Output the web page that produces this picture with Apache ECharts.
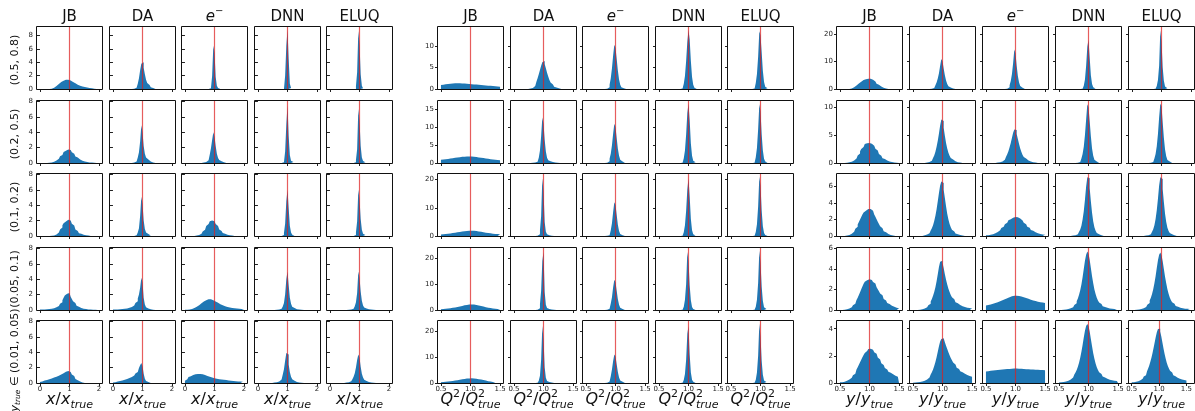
<!DOCTYPE html>
<html><head><meta charset="utf-8">
<script src="https://cdn.jsdelivr.net/npm/echarts@6/dist/echarts.min.js"></script>
<style>html,body{margin:0;padding:0;background:#fff}#c{width:1195px;height:411px}</style>
</head><body><div id="c"></div>
<script>
// ---------------- DATA (density per bin) ----------------
// x / x_true : 50 bins of width 0.04 on [0, 2]
const X_JB = [
 [0,0,0,0,0, 0,0,0,0,.05,.1,.2,.3,.45,.6,.75,.9,1.05,1.15,1.25,1.32,1.38,1.4,1.4,1.35,1.28,1.18,1.05,.95,.85,.75,.65,.57,.5,.44,.38,.33,.29,.25,.22,.19,.16,.13,.1,.08,.05,.03,.02],
 [0,0,0,0,0, 0,0,.03,.05,.08,.12,.17,.24,.32,.42,.55,.7,.88,1.05,1.25,1.42,1.58,1.7,1.75,1.75,1.68,1.55,1.38,1.2,1.02,.85,.7,.56,.45,.36,.29,.23,.19,.15,.12,.1,.08,.06,.05,.04,.03,.02,.01],
 [0,0,0,0,0, 0,0,0,0,.03,.05,.08,.13,.2,.3,.45,.62,.85,1.1,1.38,1.65,1.88,2.02,2.1,2.1,2.02,1.85,1.6,1.35,1.1,.85,.65,.5,.37,.28,.21,.16,.12,.09,.07,.05,.04,.03,.02],
 [.05,.06,.07,.08,.09,.1,.11,.13,.15,.17,.2,.24,.29,.35,.43,.53,.66,.82,1.02,1.28,1.58,1.88,2.12,2.25,2.2,2.0,1.72,1.42,1.14,.9,.7,.54,.42,.33,.26,.21,.17,.14,.12,.1,.08,.07,.06,.05,.04,.03,.02,.02,.01,.01],
 [.12,.2,.26,.31,.36,.4,.45,.5,.55,.6,.65,.7,.76,.82,.88,.95,1.02,1.1,1.18,1.27,1.36,1.45,1.52,1.55,1.52,1.42,1.28,1.1,.9,.7,.52,.37,.26,.18,.12,.08,.05,.03,.02]
];
const X_DA = [
 [0,0,0,0,0, 0,0,0,0,0, 0,0,0,0,0, 0,0,.05,.1,.2,.4,.8,1.6,2.8,3.8,4.0,3.2,2.2,1.4,.9,.6,.4,.25,.15,.1,.05],
 [0,0,0,0,0, 0,0,0,0,0, 0,0,0,0,0, 0,.05,.08,.12,.2,.35,.7,1.4,2.8,4.9,4.0,2.2,1.2,.7,.45,.3,.2,.13,.08,.05,.03],
 [0,0,0,0,0, 0,0,0,0,0, 0,0,0,0,0, 0,0,0,.05,.1,.2,.45,1.0,2.6,5.1,4.2,2.0,.9,.45,.25,.15,.08,.05],
 [.05,.06,.07,.08,.09,.1,.11,.12,.14,.16,.18,.21,.24,.28,.33,.4,.48,.58,.72,.9,1.15,1.5,2.0,2.9,4.2,3.6,1.6,.7,.35,.2,.13,.09,.06,.04,.03,.02],
 [.05,.1,.14,.18,.22,.26,.3,.34,.38,.42,.47,.52,.58,.64,.71,.79,.88,.98,1.1,1.24,1.42,1.65,1.95,2.3,2.6,2.2,1.2,.55,.25,.12,.06,.03]
];
const X_EL = [
 [0,0,0,0,0, 0,0,0,0,0, 0,0,0,0,0, 0,0,0,0,0, 0,.1,.4,2.0,6.5,5.5,1.8,.5,.15,.05],
 [0,0,0,0,0, 0,0,0,0,0, 0,0,0,0,0, .05,.08,.12,.2,.35,.6,1.1,1.9,3.0,4.0,3.4,2.2,1.2,.65,.38,.22,.14,.09,.05,.03],
 [0,0,0,0,0, 0,0,0,.03,.05,.08,.13,.2,.3,.43,.6,.8,1.05,1.3,1.55,1.75,1.9,2.0,2.0,1.92,1.75,1.55,1.3,1.05,.85,.66,.5,.38,.29,.22,.17,.13,.1,.08,.06,.04,.03,.02],
 [.02,.03,.05,.07,.1,.14,.19,.25,.33,.42,.52,.63,.75,.87,.98,1.09,1.19,1.28,1.35,1.39,1.4,1.38,1.34,1.28,1.2,1.11,1.02,.93,.84,.76,.68,.61,.55,.49,.44,.4,.36,.33,.3,.27,.25,.23,.21,.19,.17,.15,.13,.12,.1,.08],
 [.3,.5,.65,.78,.88,.96,1.03,1.08,1.12,1.15,1.17,1.18,1.17,1.15,1.12,1.08,1.03,.98,.92,.86,.8,.75,.7,.66,.62,.59,.56,.53,.5,.48,.46,.44,.42,.4,.38,.36,.34,.32,.3,.28,.26,.25,.23,.22,.2,.19,.18,.17,.16,.15]
];
const X_DNN = [
 [0,0,0,0,0, 0,0,0,0,0, 0,0,0,0,0, 0,0,0,0,0, 0,0,.3,2.0,6.5,8.9,4.5,.8,.15],
 [0,0,0,0,0, 0,0,0,0,0, 0,0,0,0,0, 0,0,0,0,0, .05,.1,.35,1.5,5.0,7.5,3.5,1.0,.3,.12,.05],
 [0,0,0,0,0, 0,0,0,0,0, 0,0,0,0,0, 0,0,0,0,0, .05,.12,.4,1.6,4.5,6.0,3.6,1.3,.45,.15,.06],
 [0,0,0,0,0, 0,0,0,0,0, 0,0,0,0,.03,.04,.05,.07,.1,.15,.25,.45,.9,2.0,4.0,5.0,3.2,1.6,.8,.42,.25,.16,.11,.08,.06,.05,.04,.03,.02],
 [0,0,0,0,0, 0,0,0,0,0, 0,0,.03,.05,.07,.1,.14,.2,.3,.45,.7,1.1,1.8,2.9,3.9,3.7,2.4,1.4,.8,.48,.3,.2,.14,.1,.07,.05,.04,.03,.02]
];
const X_ELUQ = [
 [0,0,0,0,0, 0,0,0,0,0, 0,0,0,0,0, 0,0,0,0,0, 0,0,.4,2.5,8.7,6.8,2.2,.5,.1],
 [0,0,0,0,0, 0,0,0,0,0, 0,0,0,0,0, 0,0,0,0,0, 0,.1,.4,1.8,7.0,5.5,2.2,.7,.25,.1,.04],
 [0,0,0,0,0, 0,0,0,0,0, 0,0,0,0,0, 0,0,0,0,0, .05,.12,.45,1.9,6.0,4.8,2.2,.8,.3,.12,.05],
 [0,0,0,0,0, 0,0,0,0,0, 0,0,0,0,.03,.04,.05,.07,.1,.15,.26,.5,1.0,2.2,5.0,4.2,2.4,1.2,.6,.33,.2,.13,.09,.07,.05,.04,.03,.02,.02],
 [0,0,0,0,0, 0,0,0,0,0, 0,0,.03,.05,.07,.1,.15,.22,.33,.5,.8,1.25,2.0,3.0,3.7,3.3,2.1,1.2,.7,.42,.27,.18,.12,.09,.07,.05,.04,.03,.02]
];
// Q^2 / Q^2_true : 50 bins of width 0.02 on [0.5, 1.5]
const Q_JB = [
 [.95,1.0,1.05,1.1,1.13,1.17,1.2,1.23,1.26,1.28,1.3,1.32,1.33,1.34,1.34,1.33,1.32,1.3,1.28,1.26,1.24,1.22,1.2,1.18,1.15,1.12,1.1,1.07,1.05,1.02,1.0,.98,.95,.93,.9,.88,.85,.83,.8,.78,.75,.73,.7,.68,.66,.64,.62,.6,.58,.55],
 [.9,.95,1.0,1.05,1.1,1.15,1.2,1.25,1.3,1.35,1.4,1.45,1.5,1.55,1.6,1.64,1.68,1.72,1.75,1.78,1.8,1.82,1.83,1.83,1.82,1.8,1.77,1.74,1.7,1.66,1.62,1.57,1.52,1.47,1.42,1.37,1.32,1.27,1.22,1.17,1.12,1.08,1.04,1.0,.96,.92,.88,.85,.82,.78],
 [.55,.6,.65,.7,.75,.8,.86,.92,.98,1.04,1.1,1.17,1.24,1.31,1.38,1.45,1.52,1.58,1.64,1.7,1.75,1.8,1.84,1.87,1.88,1.87,1.85,1.82,1.78,1.73,1.67,1.61,1.54,1.47,1.4,1.33,1.26,1.19,1.12,1.06,1.0,.94,.89,.84,.79,.75,.71,.67,.63,.6],
 [.3,.35,.4,.45,.5,.56,.62,.69,.76,.84,.92,1.01,1.1,1.2,1.3,1.4,1.5,1.6,1.7,1.8,1.9,1.98,2.06,2.12,2.16,2.17,2.15,2.1,2.03,1.95,1.86,1.76,1.65,1.54,1.43,1.32,1.21,1.1,1.0,.9,.81,.73,.66,.59,.53,.48,.43,.39,.35,.32],
 [.3,.35,.4,.45,.5,.55,.6,.66,.72,.79,.86,.94,1.02,1.1,1.18,1.26,1.34,1.42,1.5,1.57,1.63,1.69,1.74,1.78,1.8,1.8,1.78,1.74,1.69,1.63,1.56,1.48,1.4,1.31,1.22,1.12,1.02,.92,.82,.72,.63,.54,.46,.38,.31,.25,.1]
];
const Q_DA = [
 [0,0,0,0,0, 0,0,0,0,0, 0,0,.05,.1,.15,.25,.4,.7,1.1,1.7,2.5,3.4,4.4,5.4,6.2,6.5,5.8,4.8,3.8,2.9,2.1,1.5,1.05,.75,.5,.35,.25,.17,.12,.08,.05],
 [0,0,0,0,0, 0,0,0,0,0, 0,0,0,0,0, .05,.08,.12,.2,.35,.7,1.5,3.5,7.5,12.8,11.0,6.5,3.2,1.5,.8,.5,.35,.25,.18,.13,.1,.07,.05,.04,.03],
 [0,0,0,0,0, 0,0,0,0,0, 0,0,0,0,0, 0,0,0,.05,.1,.2,.6,2.0,7.0,20.5,16.0,5.0,1.5,.6,.3,.2,.12,.08,.05],
 [0,0,0,0,0, 0,0,0,0,0, 0,0,0,0,0, 0,0,0,.05,.1,.25,.7,2.2,7.5,19.0,22.5,7.0,2.0,.8,.4,.25,.18,.12,.08,.06,.04],
 [0,0,0,0,0, 0,0,0,0,0, 0,0,0,0,0, 0,0,0,0,.1,.3,.9,2.8,9.0,22.0,17.0,6.0,2.0,.8,.4,.25,.15,.1,.06]
];
const Q_EL = [
 [0,0,0,0,0, 0,0,0,0,0, 0,0,0,0,0, 0,0,.05,.15,.4,1.0,2.5,4.8,7.8,10.3,9.5,7.0,4.3,2.2,1.0,.4,.15,.08,.05],
 [0,0,0,0,0, 0,0,0,0,0, 0,0,0,0,0, 0,.05,.1,.2,.5,1.2,2.6,5.0,8.2,11.0,10.0,7.0,4.0,2.0,.9,.4,.2,.1,.05],
 [0,0,0,0,0, 0,0,0,0,0, 0,0,0,0,0, 0,0,.05,.12,.3,.8,2.0,4.5,8.5,12.0,11.0,7.5,4.0,1.8,.7,.3,.12,.05],
 [0,0,0,0,0, 0,0,0,0,0, 0,0,0,0,0, 0,.05,.1,.22,.5,1.1,2.5,5.0,8.8,11.8,10.8,7.5,4.2,2.0,.9,.4,.18,.08,.04],
 [0,0,0,0,0, 0,0,0,0,0, 0,0,0,0,0, 0,.05,.12,.25,.55,1.2,2.6,5.2,8.5,11.0,10.2,7.2,4.2,2.1,1.0,.45,.2,.1,.05]
];
const Q_DNN = [
 [0,0,0,0,0, 0,0,0,0,0, 0,0,0,0,0, 0,0,0,0,.1,.4,1.2,3.0,6.5,11.0,13.7,11.5,6.5,2.8,1.0,.3,.1],
 [0,0,0,0,0, 0,0,0,0,0, 0,0,0,0,0, 0,0,0,0,.1,.4,1.3,3.5,8.0,14.0,16.6,12.0,5.5,2.0,.6,.2,.08],
 [0,0,0,0,0, 0,0,0,0,0, 0,0,0,0,0, 0,0,0,0,.1,.4,1.3,3.8,9.0,16.5,20.5,14.0,6.0,2.0,.6,.2],
 [0,0,0,0,0, 0,0,0,0,0, 0,0,0,0,0, 0,0,0,0,.1,.4,1.3,4.0,10.0,22.5,19.0,9.5,3.8,1.2,.4,.15],
 [0,0,0,0,0, 0,0,0,0,0, 0,0,0,0,0, 0,0,0,0,.1,.35,1.2,3.5,9.0,19.0,22.0,11.0,4.0,1.3,.45,.15]
];
const Q_ELUQ = [
 [0,0,0,0,0, 0,0,0,0,0, 0,0,0,0,0, 0,0,0,0,.1,.4,1.4,3.5,7.5,13.4,12.5,8.5,4.2,1.6,.5,.15],
 [0,0,0,0,0, 0,0,0,0,0, 0,0,0,0,0, 0,0,0,0,.1,.5,1.6,4.2,9.5,16.5,14.5,8.0,3.5,1.2,.4,.12],
 [0,0,0,0,0, 0,0,0,0,0, 0,0,0,0,0, 0,0,0,0,.1,.4,1.4,4.2,10.5,21.0,18.0,9.0,3.5,1.1,.35,.1],
 [0,0,0,0,0, 0,0,0,0,0, 0,0,0,0,0, 0,0,0,0,.1,.4,1.3,4.0,10.5,23.0,18.5,9.0,3.5,1.1,.35,.12],
 [0,0,0,0,0, 0,0,0,0,0, 0,0,0,0,0, 0,0,0,0,.1,.4,1.3,4.0,10.5,22.8,18.0,8.5,3.2,1.0,.35,.1]
];
// y / y_true : 50 bins of width 0.02 on [0.5, 1.5]
const Y_JB = [
 [0,0,0,0,0, 0,0,0,.1,.2,.4,.65,.95,1.3,1.65,2.0,2.35,2.7,3.0,3.25,3.45,3.6,3.7,3.78,3.8,3.75,3.6,3.4,3.1,2.75,2.35,1.95,1.55,1.2,.9,.65,.45,.3,.2,.12,.07,.04],
 [0,0,0,0,0, .05,.08,.12,.17,.24,.33,.45,.6,.8,1.05,1.35,1.7,2.1,2.5,2.85,3.15,3.38,3.52,3.6,3.6,3.55,3.45,3.3,3.1,2.85,2.55,2.22,1.9,1.6,1.32,1.08,.87,.7,.56,.44,.35,.27,.21,.16,.12,.09,.07,.05,.04,.03],
 [0,0,0,0,.03,.05,.08,.12,.18,.26,.37,.5,.67,.88,1.12,1.4,1.7,2.0,2.3,2.6,2.85,3.05,3.2,3.28,3.3,3.28,3.2,3.05,2.85,2.6,2.32,2.02,1.72,1.44,1.18,.95,.75,.58,.44,.33,.25,.18,.13,.1,.07,.05,.04,.03],
 [.01,.01,.02,.03,.05,.07,.1,.14,.19,.26,.35,.46,.6,.77,.97,1.2,1.46,1.74,2.03,2.3,2.55,2.76,2.9,2.98,3.0,2.98,2.93,2.85,2.73,2.58,2.41,2.22,2.02,1.82,1.62,1.43,1.25,1.08,.93,.8,.68,.58,.49,.42,.36,.31,.26,.22,.19,.16],
 [.05,.06,.08,.1,.13,.16,.2,.25,.31,.38,.47,.57,.69,.83,.99,1.16,1.34,1.53,1.72,1.9,2.07,2.22,2.35,2.44,2.5,2.52,2.5,2.45,2.37,2.27,2.15,2.02,1.88,1.74,1.6,1.46,1.33,1.21,1.1,1.0,.91,.83,.76,.7,.64,.59,.54,.5,.46,.42]
];
const Y_DA = [
 [0,0,0,0,0, 0,0,0,0,0, 0,0,0,0,.05,.1,.2,.4,.8,1.4,2.4,3.8,5.8,8.5,11.0,10.2,7.5,5.0,3.1,1.8,1.0,.55,.3,.15,.08,.04],
 [0,0,0,0,0, 0,0,0,0,0, .05,.08,.12,.18,.27,.4,.6,.9,1.35,2.0,2.9,4.0,5.3,6.7,7.8,7.5,6.3,4.9,3.6,2.6,1.85,1.3,.9,.62,.43,.3,.21,.15,.1,.07,.05,.03],
 [0,0,0,0,0, 0,0,0,.05,.08,.12,.17,.24,.34,.48,.68,.95,1.3,1.8,2.45,3.25,4.2,5.2,6.1,6.6,6.4,5.6,4.6,3.6,2.7,2.0,1.45,1.05,.76,.55,.4,.29,.21,.15,.11,.08,.06,.04,.03],
 [0,0,0,0,0, .03,.05,.07,.1,.14,.19,.26,.35,.47,.62,.82,1.07,1.38,1.76,2.22,2.8,3.5,4.2,4.7,4.8,4.6,4.1,3.5,2.95,2.48,2.08,1.75,1.47,1.24,1.05,.89,.76,.65,.56,.48,.42,.37,.33,.29,.26,.23,.21,.19,.17,.15],
 [.02,.03,.04,.05,.06,.07,.09,.11,.14,.17,.21,.26,.32,.4,.5,.63,.8,1.0,1.25,1.55,1.9,2.3,2.7,3.05,3.25,3.3,3.2,3.0,2.75,2.5,2.27,2.05,1.85,1.67,1.51,1.37,1.24,1.13,1.03,.94,.86,.79,.73,.68,.63,.59,.55,.52,.49,.46]
];
const Y_EL = [
 [0,0,0,0,0, 0,0,0,0,0, 0,0,0,0,0, 0,0,.1,.25,.6,1.4,2.9,5.5,9.5,14.5,13.0,8.5,4.8,2.4,1.1,.5,.2,.08],
 [0,0,0,0,0, 0,0,0,.05,.07,.1,.14,.2,.28,.4,.57,.8,1.12,1.55,2.1,2.8,3.6,4.5,5.4,6.0,5.9,5.2,4.3,3.4,2.6,1.95,1.45,1.07,.8,.6,.45,.34,.26,.2,.15,.11,.08,.06,.04],
 [.08,.1,.12,.15,.18,.22,.27,.33,.4,.48,.58,.69,.82,.96,1.11,1.27,1.43,1.6,1.76,1.9,2.03,2.14,2.22,2.27,2.3,2.3,2.27,2.21,2.12,2.01,1.88,1.74,1.59,1.43,1.28,1.13,.99,.86,.74,.63,.54,.46,.39,.33,.28,.24,.21,.18,.16,.14],
 [.45,.48,.51,.54,.57,.6,.64,.68,.72,.76,.8,.85,.9,.95,1.0,1.05,1.1,1.15,1.2,1.25,1.29,1.33,1.36,1.38,1.4,1.4,1.39,1.37,1.35,1.32,1.29,1.25,1.21,1.17,1.13,1.09,1.05,1.01,.97,.93,.9,.87,.84,.81,.78,.76,.74,.72,.7,.68],
 [.85,.87,.88,.9,.91,.92,.93,.94,.95,.96,.97,.98,.99,1.0,1.01,1.02,1.02,1.03,1.03,1.04,1.04,1.05,1.05,1.06,1.05,1.06,1.05,1.05,1.04,1.05,1.04,1.03,1.03,1.02,1.02,1.01,1.01,1.0,1.0,.99,.99,.98,.98,.97,.97,.96,.96,.95,.95,.94]
];
const Y_DNN = [
 [0,0,0,0,0, 0,0,0,0,0, 0,0,0,0,0, 0,0,0,0,.1,.4,1.2,3.5,8.5,15.5,18.0,11.5,5.0,1.8,.6,.2],
 [0,0,0,0,0, 0,0,0,0,0, 0,0,0,0,0, .05,.1,.2,.4,.8,1.6,2.9,5.0,7.8,10.5,10.0,7.5,4.8,2.6,1.3,.6,.28,.13,.06],
 [0,0,0,0,0, 0,0,0,0,0, .03,.05,.07,.1,.15,.22,.33,.5,.8,1.25,2.0,3.0,4.4,6.0,7.1,7.0,5.8,4.2,2.8,1.75,1.05,.62,.37,.22,.14,.09,.06,.04,.03],
 [0,0,0,.03,.04,.05,.07,.09,.12,.16,.21,.28,.37,.49,.65,.86,1.13,1.48,1.93,2.5,3.2,4.0,4.8,5.4,5.7,5.5,4.9,4.1,3.3,2.6,2.0,1.55,1.2,.93,.73,.58,.46,.37,.3,.25,.21,.18,.15,.13,.11,.1,.09,.08,.07,.06],
 [.04,.05,.06,.07,.09,.11,.14,.17,.21,.26,.32,.4,.5,.62,.77,.96,1.2,1.5,1.87,2.3,2.8,3.35,3.85,4.2,4.35,4.2,3.8,3.25,2.7,2.2,1.78,1.44,1.17,.96,.79,.66,.55,.47,.4,.35,.31,.27,.24,.22,.2,.18,.17,.16,.15,.14]
];
const Y_ELUQ = [
 [0,0,0,0,0, 0,0,0,0,0, 0,0,0,0,0, 0,0,0,0,.1,.35,1.1,3.3,8.5,21.5,17.5,8.0,3.0,.9,.3,.1],
 [0,0,0,0,0, 0,0,0,0,0, 0,0,0,0,0, .05,.1,.2,.4,.8,1.6,3.0,5.2,8.2,10.6,10.2,7.3,4.5,2.4,1.2,.55,.25,.1,.05],
 [0,0,0,0,0, 0,0,0,0,0, .03,.05,.07,.1,.15,.22,.34,.52,.82,1.3,2.05,3.1,4.5,6.1,7.1,6.9,5.7,4.1,2.7,1.7,1.0,.6,.35,.21,.13,.08,.05,.03],
 [0,0,0,.03,.04,.05,.07,.09,.12,.16,.22,.29,.39,.52,.69,.92,1.2,1.57,2.03,2.6,3.3,4.1,4.85,5.4,5.6,5.35,4.75,4.0,3.25,2.6,2.02,1.58,1.23,.96,.76,.6,.48,.39,.32,.27,.23,.2,.17,.15,.13,.12,.11,.1,.09,.08],
 [.05,.06,.07,.09,.11,.13,.16,.2,.25,.31,.38,.47,.58,.71,.87,1.06,1.29,1.56,1.87,2.22,2.6,3.0,3.4,3.75,3.98,4.0,3.8,3.45,3.0,2.56,2.15,1.8,1.5,1.26,1.06,.9,.77,.66,.57,.5,.44,.39,.35,.31,.28,.26,.24,.22,.2,.19]
];

const METHODS = ['JB', 'DA', 'e', 'DNN', 'ELUQ'];
const ROW_LABELS = ['(0.5, 0.8)', '(0.2, 0.5)', '(0.1, 0.2)', '(0.05, 0.1)', '(0.01, 0.05)'];
const X_TICKS = [0, 1, 2];
const Q_TICKS = [0.5, 1.0, 1.5];
const Y_TICKS = [0.5, 1.0, 1.5];
const REF_VALUE = 1;
const X_YMAX = [9.3, 8.05, 8.05, 8.05, 8.05];
const Q_YMAX = [14.4, 17.4, 22.0, 24.1, 23.9];
const Y_YMAX = [22.7, 11.1, 7.5, 6.05, 4.57];
const X_YTICKS = [[0,2,4,6,8],[0,2,4,6,8],[0,2,4,6,8],[0,2,4,6,8],[0,2,4,6,8]];
const Q_YTICKS = [[0,5,10],[0,5,10,15],[0,10,20],[0,10,20],[0,10,20]];
const Y_YTICKS = [[0,10,20],[0,5,10],[0,2,4,6],[0,2,4,6],[0,2,4]];

// ---------------- LAYOUT / STYLE ----------------
const FF = '"DejaVu Sans", sans-serif';
const panels = [
  {hist:[X_JB,X_DA,X_EL,X_DNN,X_ELUQ], lo:0, w:0.04, xmin:-0.1, xmax:2.1, xt:X_TICKS, dec:0, ymax:X_YMAX, yt:X_YTICKS, left:37, pitch:72.6, lab:'x'},
  {hist:[Q_JB,Q_DA,Q_EL,Q_DNN,Q_ELUQ], lo:0.5, w:0.02, xmin:0.45, xmax:1.55, xt:Q_TICKS, dec:1, ymax:Q_YMAX, yt:Q_YTICKS, left:438, pitch:72.6, lab:'Q'},
  {hist:[Y_JB,Y_DA,Y_EL,Y_DNN,Y_ELUQ], lo:0.5, w:0.02, xmin:0.45, xmax:1.55, xt:Y_TICKS, dec:1, ymax:Y_YMAX, yt:Y_YTICKS, left:837, pitch:73, lab:'y'}
];
const PW = 65, PH = 62, TOP0 = 27, RP = 73.5;
const BLUE = '#1f77b4';
const RED = 'rgba(220,30,30,0.72)';

const grids = [], xAxes = [], yAxes = [], series = [], graphics = [];
const ctx = document.createElement('canvas').getContext('2d');
function fstr(p) { return (p.it ? 'italic ' : '') + p.size + 'px ' + FF; }
function meas(p) { ctx.font = fstr(p); return ctx.measureText(p.t).width; }
function mathText(pieces, cx, cy, rot) {
  const widths = pieces.map(p => p.stack ? Math.max(...p.stack.map(meas)) : meas(p));
  const total = widths.reduce((a, b) => a + b, 0);
  let x = -total / 2; const children = [];
  pieces.forEach((p, i) => {
    (p.stack || [p]).forEach(q => children.push({
      type: 'text', x: x, y: q.dy || 0, silent: true,
      style: {text: q.t, fontSize: q.size, fontFamily: FF, fontStyle: q.it ? 'italic' : 'normal',
              fill: '#111', textAlign: 'left', textVerticalAlign: 'middle', align: 'left', verticalAlign: 'middle'}
    }));
    x += widths[i];
  });
  return {type: 'group', x: cx, y: cy, rotation: rot || 0, children, silent: true, z: 200};
}
// vertical reference line at x = REF_VALUE, snapped to the pixel grid
function refLine(params, api) {
  const p0 = api.coord([api.value(0), 0]);
  const p1 = api.coord([api.value(0), api.value(1)]);
  const x = Math.floor(p0[0]) + 0.5;
  return {type: 'line', shape: {x1: x, y1: p0[1], x2: x, y2: p1[1]}, style: {stroke: RED, lineWidth: 1.2}};
}

let k = 0;
panels.forEach((P, pi) => {
  for (let c = 0; c < 5; c++) {
    const left = Math.round(P.left + c * P.pitch);
    const cx = left + PW / 2;
    const tp = c === 2 ? [{t:'e', size:15, it:true}, {t:'\u2212', size:10, dy:-6}] : [{t:METHODS[c], size:15}];
    graphics.push(mathText(tp, cx, 17));
    let lp;
    if (P.lab === 'Q') lp = [{t:'Q', size:16, it:true}, {t:'2', size:11, dy:-6}, {t:'/', size:16}, {t:'Q', size:16, it:true},
                             {stack:[{t:'2', size:11, dy:-6}, {t:'true', size:11, it:true, dy:5}]}];
    else lp = [{t:P.lab, size:16, it:true}, {t:'/', size:16}, {t:P.lab, size:16, it:true}, {t:'true', size:11, it:true, dy:5}];
    graphics.push(mathText(lp, cx, 400));
    for (let r = 0; r < 5; r++) {
      const top = Math.round(TOP0 + r * RP);
      grids.push({left: left, top: top, width: PW, height: PH, show: false});
      xAxes.push({gridIndex: k, type: 'value', min: P.xmin, max: P.xmax,
        axisLine: {show: false}, splitLine: {show: false},
        axisTick: {show: true, length: 3, lineStyle: {color: '#222', width: 1}, customValues: P.xt},
        axisLabel: {show: r === 4, customValues: P.xt, fontSize: 7, color: '#222', fontFamily: FF, margin: 3,
                    formatter: v => v.toFixed(P.dec)}});
      yAxes.push({gridIndex: k, type: 'value', min: 0, max: P.ymax[r],
        axisLine: {show: false}, splitLine: {show: false},
        axisTick: {show: true, length: 3, lineStyle: {color: '#222', width: 1}, customValues: P.yt[r]},
        axisLabel: {show: c === 0, customValues: P.yt[r], fontSize: 7, color: '#222', fontFamily: FF, margin: 4,
                    formatter: v => String(v)}});
      const vals = P.hist[c][r];
      const pts = vals.map((v, i) => [P.lo + i * P.w, v]);
      pts.push([P.lo + vals.length * P.w, vals[vals.length - 1]]);
      pts.push([P.lo + vals.length * P.w, 0]);
      series.push({type: 'line', xAxisIndex: k, yAxisIndex: k, data: pts, step: 'end',
        symbol: 'none', showSymbol: false, silent: true, animation: false,
        lineStyle: {width: 0, color: BLUE}, areaStyle: {color: BLUE, opacity: 1}, z: 2});
      series.push({type: 'custom', xAxisIndex: k, yAxisIndex: k, data: [[REF_VALUE, P.ymax[r]]],
        renderItem: refLine, silent: true, animation: false, z: 3});
      graphics.push({type: 'rect', silent: true, z: 150,
        shape: {x: left - 0.5, y: top - 0.5, width: PW + 1, height: PH + 1},
        style: {fill: null, stroke: '#111', lineWidth: 1}});
      if (pi === 0 && c === 0) {
        const rp = r === 4
          ? [{t:'y', size:11, it:true}, {t:'true', size:7.5, it:true, dy:3}, {t:' \u2208 (0.01, 0.05)', size:11}]
          : [{t:ROW_LABELS[r], size:11}];
        const dy = r === 4 ? 8 : (r === 3 ? 0 : 2);
        graphics.push(mathText(rp, 15, top + PH / 2 + dy, Math.PI / 2));
      }
      k++;
    }
  }
});

const chart = echarts.init(document.getElementById('c'), null, {renderer: 'canvas'});
chart.setOption({animation: false, backgroundColor: '#fff', grid: grids, xAxis: xAxes, yAxis: yAxes, series, graphic: graphics});
</script></body></html>
